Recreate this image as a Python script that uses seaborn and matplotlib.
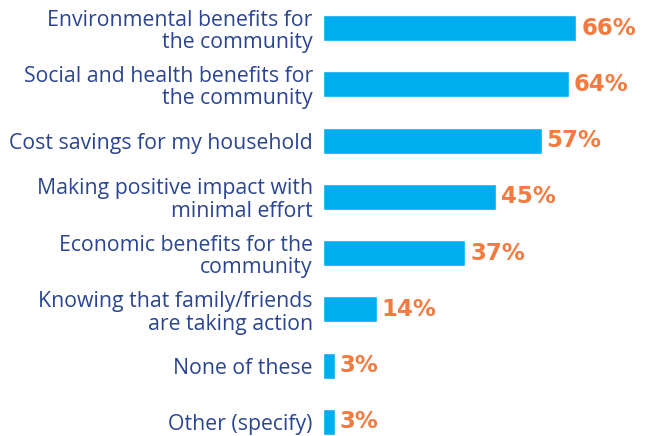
import matplotlib
matplotlib.use("Agg")
import matplotlib.pyplot as plt
import seaborn as sns
import pandas as pd

categories = [
    "Environmental benefits for\nthe community",
    "Social and health benefits for\nthe community",
    "Cost savings for my household",
    "Making positive impact with\nminimal effort",
    "Economic benefits for the\ncommunity",
    "Knowing that family/friends\nare taking action",
    "None of these",
    "Other (specify)",
]
values = [66, 64, 57, 45, 37, 14, 3, 3]

BAR_COLOR = "#00AEEF"
LABEL_COLOR = "#2B4592"
VALUE_COLOR = "#F47B3F"

sns.set_theme(style="white")
plt.rcParams["font.family"] = ["Open Sans", "DejaVu Sans"]

df = pd.DataFrame({"reason": categories, "share": values})

fig = plt.figure(figsize=(6.49, 4.36), dpi=100)
ax = fig.add_axes([0.498, 0.0, 0.502, 1.0])

sns.barplot(data=df, y="reason", x="share", orient="h", color=BAR_COLOR,
            saturation=1, width=0.46, ax=ax)

ax.set_xlim(0, 85)
ax.set_ylim(7.25, -0.5)
ax.set_xlabel("")
ax.set_ylabel("")
ax.set_xticks([])
for s in ax.spines.values():
    s.set_visible(False)

ax.tick_params(axis="y", length=0, pad=7.5)
for lbl in ax.get_yticklabels():
    lbl.set_fontsize(15.3)
    lbl.set_color(LABEL_COLOR)
    lbl.set_multialignment("right")
    lbl.set_linespacing(1.1)

for i, v in enumerate(values):
    ax.text(v + 1.3, i, f"{v}%", va="center", ha="left",
            fontsize=16.5, fontweight="bold", color=VALUE_COLOR,
            family="DejaVu Sans")

fig.savefig("out.png", dpi=100)
